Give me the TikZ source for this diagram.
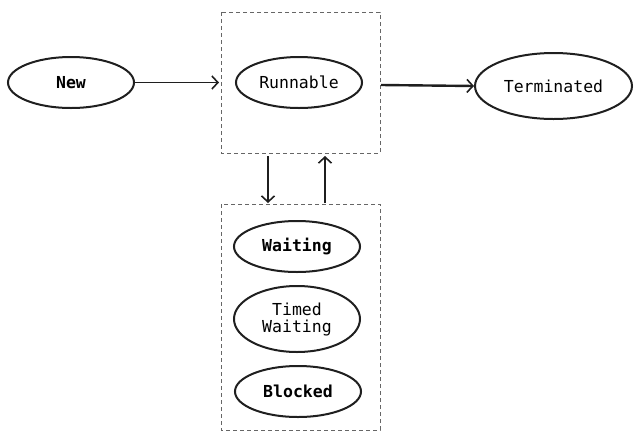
\documentclass[tikz,border=0pt]{standalone}
\usepackage{fontspec}
\setmonofont{DejaVu Sans Mono}
\usetikzlibrary{arrows.meta,shapes.geometric}
\tikzset{
  state/.style={draw=black!88, line width=2pt, ellipse, inner sep=0pt, font=\ttfamily\fontsize{16.5}{19}\selectfont, align=center},
  boldstate/.style={state, font=\ttfamily\bfseries\fontsize{16.5}{19}\selectfont},
  group/.style={draw=black!60, dash pattern=on 4pt off 3pt, line width=0.9pt},
  flow/.style={draw=black!88, line width=1.7pt, -{Straight Barb[length=6pt,width=13pt,line width=1.6pt]}},
}
\begin{document}
\begin{tikzpicture}[x=1pt,y=-1pt]
\useasboundingbox (0,0) rectangle (638,437);
\draw[group] (221,12) rectangle (380,153);
\draw[group] (221,204) rectangle (380,430);
\node[boldstate, minimum width=126pt, minimum height=51pt] (new) at (71,82.5) {New};
\node[state, minimum width=126pt, minimum height=51pt] (run) at (299,82.5) {Runnable};
\node[state, minimum width=157pt, minimum height=66pt] (term) at (553.5,86) {Terminated};
\node[boldstate, minimum width=126pt, minimum height=51pt] (wait) at (297,246.5) {Waiting};
\node[state, minimum width=126pt, minimum height=66pt] (timed) at (297,319) {Timed\\[-2pt]Waiting};
\node[boldstate, minimum width=126pt, minimum height=51pt] (block) at (298,391.5) {Blocked};
\coordinate (rbr) at (381,85);
\coordinate (d1) at (268,156);
\coordinate (d2) at (268,203);
\coordinate (u1) at (325,203);
\coordinate (u2) at (325,156);
\draw[flow] (new.east) -- (219,82.5);
\draw[flow, line width=2.4pt] (rbr) -- (term.west);
\draw[flow] (d1) -- (d2);
\draw[flow] (u1) -- (u2);
\end{tikzpicture}
\end{document}
